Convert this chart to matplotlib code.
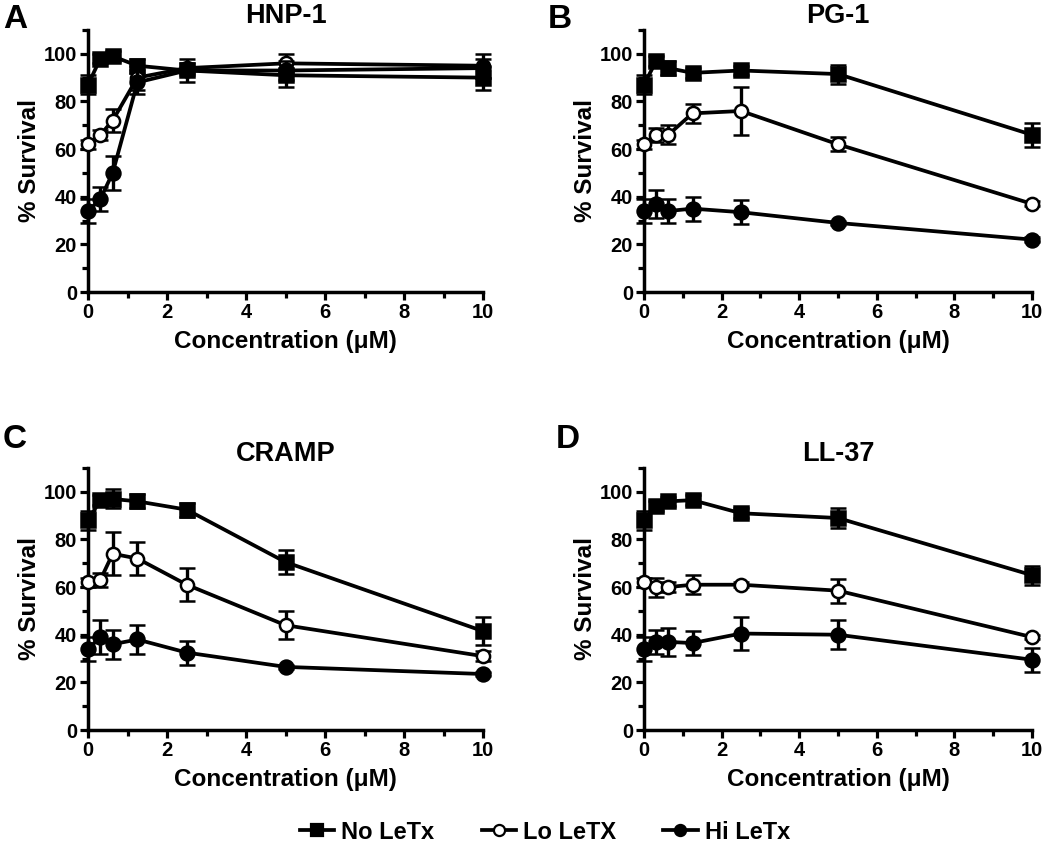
import matplotlib
matplotlib.use("Agg")
import matplotlib.pyplot as plt
from matplotlib.ticker import MultipleLocator
from matplotlib.lines import Line2D

plt.rcParams['font.family'] = ['Liberation Sans', 'DejaVu Sans']
plt.rcParams['font.weight'] = 'bold'

conc = [0, 0.3125, 0.625, 1.25, 2.5, 5, 10]
series_names = ["No LeTx", "Lo LeTX", "Hi LeTx"]
panel_titles = ["HNP-1", "PG-1", "CRAMP", "LL-37"]
panel_letters = ["A", "B", "C", "D"]

# HNP-1
hnp_no = [87, 98, 99, 95, 93, 91, 90]
hnp_no_err = [4, 2, 2, 3, 2, 5, 5]
hnp_lo = [62, 66, 72, 90, 94, 96, 95]
hnp_lo_err = [2, 2, 5, 5, 2, 4, 5]
hnp_hi = [34, 39, 50, 88, 93, 93, 94]
hnp_hi_err = [5, 5, 7, 5, 5, 4, 4]

# PG-1
pg_no = [87, 97, 94, 92, 93, 91.5, 66]
pg_no_err = [4, 2, 3, 2, 2, 4, 5]
pg_lo = [62, 66, 66, 75, 76, 62, 37]
pg_lo_err = [2, 3, 4, 4, 10, 3, 1]
pg_hi = [34, 37, 34, 35, 33.5, 29, 22]
pg_hi_err = [5, 6, 5, 5, 5, 1, 1]

# CRAMP
cr_no = [88, 96.5, 97, 96, 92.5, 70.5, 41.5]
cr_no_err = [4, 2, 4, 3, 3, 5, 6]
cr_lo = [62, 63, 74, 72, 61, 44, 31]
cr_lo_err = [2, 3, 9, 7, 7, 6, 2]
cr_hi = [34, 39, 36, 38, 32.5, 26.5, 23.5]
cr_hi_err = [5, 7, 6, 6, 5, 1, 1]

# LL-37
ll_no = [88, 94, 96, 96.5, 91, 89, 65]
ll_no_err = [4, 2, 2, 2, 2, 4, 4]
ll_lo = [62, 60, 60, 61, 61, 58.5, 39]
ll_lo_err = [2, 4, 2, 4, 1, 5, 1]
ll_hi = [34, 37, 37, 36.5, 40.5, 40, 29.5]
ll_hi_err = [5, 5, 6, 5, 7, 6, 5]

panels = [
    (hnp_no, hnp_no_err, hnp_lo, hnp_lo_err, hnp_hi, hnp_hi_err),
    (pg_no, pg_no_err, pg_lo, pg_lo_err, pg_hi, pg_hi_err),
    (cr_no, cr_no_err, cr_lo, cr_lo_err, cr_hi, cr_hi_err),
    (ll_no, ll_no_err, ll_lo, ll_lo_err, ll_hi, ll_hi_err),
]

styles = [
    dict(marker='s', mfc='black', mec='black', ms=10),
    dict(marker='o', mfc='white', mec='black', ms=9.5),
    dict(marker='o', mfc='black', mec='black', ms=10),
]

fig = plt.figure(figsize=(10.5, 8.49), dpi=100)
W, H = 1050, 849
boxes = [
    (88, 30, 483, 292),
    (644, 30, 1032, 292),
    (88, 468, 483, 730),
    (644, 468, 1032, 730),
]
letter_pos = [(3, 4), (548, 4), (3, 424), (556, 424)]

for i, (box, data) in enumerate(zip(boxes, panels)):
    x0, y0, x1, y1 = box
    ax = fig.add_axes([x0 / W, 1 - y1 / H, (x1 - x0) / W, (y1 - y0) / H])
    for k in range(3):
        vals = data[2 * k]
        errs = data[2 * k + 1]
        cont = ax.errorbar(conc, vals, yerr=errs, color='black', lw=2.7,
                           elinewidth=2.4, capsize=5.5, capthick=2.4,
                           mew=1.8, zorder=3 + k, **styles[k])
        for art in cont.get_children():
            art.set_clip_on(False)
    ax.set_xlim(0, 10)
    ax.set_ylim(0, 110)
    ax.xaxis.set_major_locator(MultipleLocator(2))
    ax.xaxis.set_minor_locator(MultipleLocator(1))
    ax.yaxis.set_major_locator(MultipleLocator(20))
    ax.yaxis.set_minor_locator(MultipleLocator(10))
    ax.set_yticks([0, 20, 40, 60, 80, 100])
    for s in ['top', 'right']:
        ax.spines[s].set_visible(False)
    for s in ['left', 'bottom']:
        ax.spines[s].set_linewidth(2.5)
    ax.tick_params(which='major', direction='out', length=6, width=2.3,
                   labelsize=14.5, pad=2)
    ax.tick_params(which='minor', direction='out', length=4, width=2.3)
    for lab in ax.get_xticklabels() + ax.get_yticklabels():
        lab.set_fontweight('bold')
    ax.set_title(panel_titles[i], fontsize=19.5, fontweight='bold', pad=5)
    ax.set_ylabel('% Survival', fontsize=17.5, fontweight='bold', labelpad=2)
    ax.set_xlabel('Concentration (\u03bcM)', fontsize=17.5, fontweight='bold', labelpad=6)
    lx, ly = letter_pos[i]
    fig.text(lx / W, 1 - ly / H, panel_letters[i], fontsize=24,
             fontweight='bold', ha='left', va='top')

handles = [Line2D([0], [0], color='black', lw=2.7, mew=1.6,
                  marker=styles[k]['marker'], mfc=styles[k]['mfc'],
                  mec=styles[k]['mec'], ms=8) for k in range(3)]
fig.legend(handles, series_names, loc='center', bbox_to_anchor=(0.519, 0.02),
           ncol=3, frameon=False, handlelength=1.45,
           columnspacing=2.0, handletextpad=0.3, prop={'weight': 'bold', 'size': 17})

fig.savefig('out.png', dpi=100)
